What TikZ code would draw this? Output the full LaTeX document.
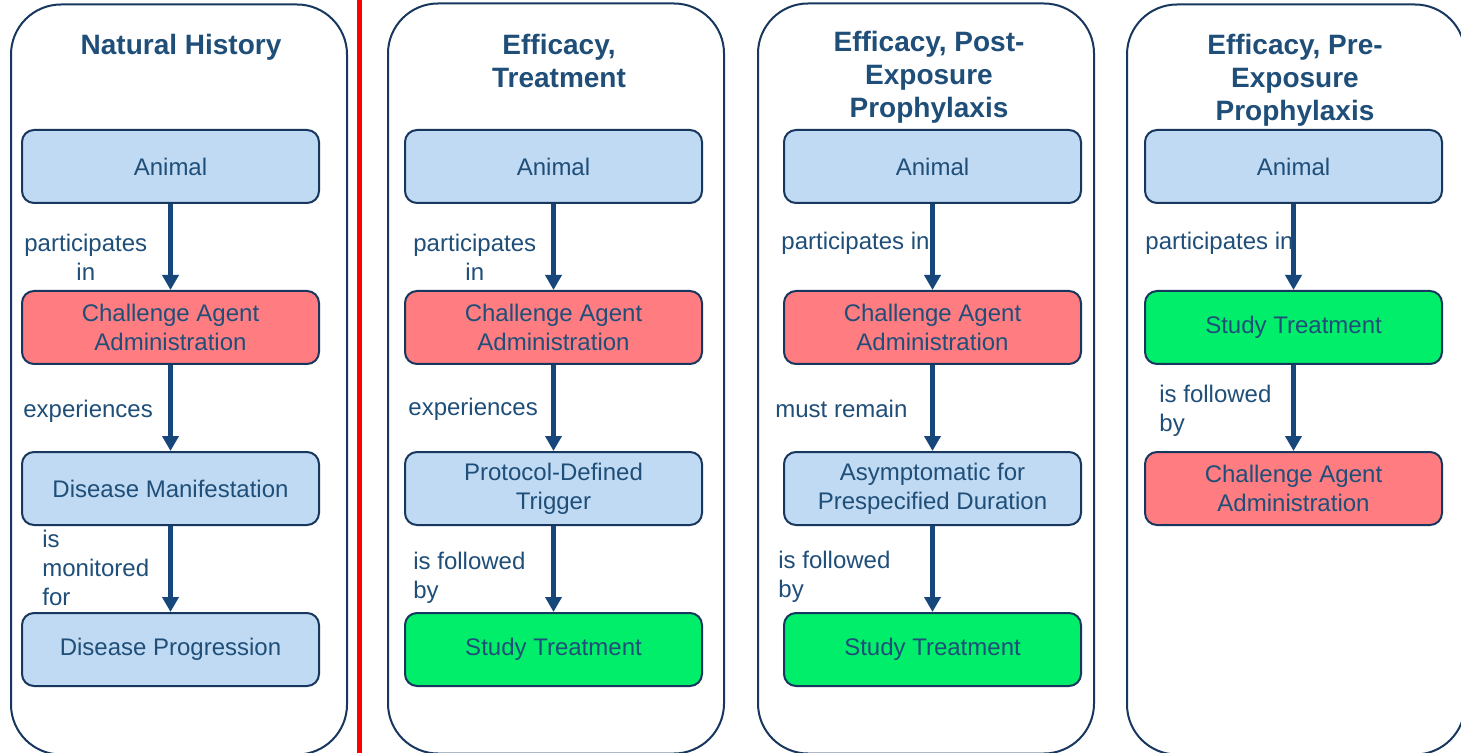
\documentclass[tikz,border=0pt]{standalone}
\usepackage{fontspec}
\setmainfont{Liberation Sans}
\usetikzlibrary{arrows.meta,positioning}
\definecolor{navy}{HTML}{17375E}
\definecolor{textblue}{HTML}{1F4E79}
\definecolor{arrowblue}{HTML}{17467A}
\definecolor{lightblue}{HTML}{BFDAF2}
\definecolor{salmon}{HTML}{FF7C80}
\definecolor{brightgreen}{HTML}{00EE6A}
\tikzset{
  panel/.style={draw=navy, line width=1pt, rounded corners=25pt, fill=white, minimum height=375pt},
  title/.style={text=textblue, font=\fontsize{14}{16.5}\selectfont\bfseries, align=center},
  base/.style={draw=navy, line width=1pt, rounded corners=6pt, minimum width=148.5pt, minimum height=36.5pt, align=center, text=textblue, font=\fontsize{12}{14.5}\selectfont, inner sep=2pt},
  animalbox/.style={base, fill=lightblue},
  challengebox/.style={base, fill=salmon},
  treatbox/.style={base, fill=brightgreen},
  edgetext/.style={text=textblue, font=\fontsize{12}{14.5}\selectfont, inner sep=0pt, anchor=west},
  line/.style={-{Triangle[length=7.5pt,width=8pt]}, line width=2.4pt, draw=arrowblue}
}

\begin{document}
\begin{tikzpicture}[x=0.5pt, y=-0.5pt, node distance=43pt]
  \useasboundingbox (0,0) rectangle (1461,753);

  % panels
  \node[panel, minimum width=168pt] (panel1) at (179,379.5) {};
  \node[panel, minimum width=168pt] (panel2) at (556,378.5) {};
  \node[panel, minimum width=168pt] (panel3) at (926,378.5) {};
  \node[panel, minimum width=169pt] (panel4) at (1296,379.5) {};

  % divider
  \coordinate (divtop) at (359,0);
  \coordinate (divbot) at (359,753);
  \draw[red, line width=2.5pt] (divtop) -- (divbot);

  \node[title] (title1) at (181,47) {Natural History};
  \node[title] (title2) at (559,61) {Efficacy,\\Treatment};
  \node[title] (title3) at (929,77.5) {Efficacy, Post-\\Exposure\\Prophylaxis};
  \node[title] (title4) at (1295,80) {Efficacy, Pre-\\Exposure\\Prophylaxis};

  % natural history
  \node[animalbox] (animal1) at (170.5,166.5) {Animal};
  \node[challengebox, below=of animal1] (challenge1) {Challenge Agent\\Administration};
  \node[animalbox, below=of challenge1] (manif1) {Disease Manifestation};
  \node[animalbox, below=of manif1] (progr1) {Disease Progression};
  \draw[line] (animal1) -- (challenge1);
  \draw[line] (challenge1) -- (manif1);
  \draw[line] (manif1) -- (progr1);
  \node[edgetext, align=center] (part1) at (24,257) {participates\\in};
  \node[edgetext] (exp1) at (23,411) {experiences};
  \node[edgetext, align=left] (mon1) at (42,568) {is\\monitored\\for};

  % treatment
  \node[animalbox] (animal2) at (553.5,166.5) {Animal};
  \node[challengebox, below=of animal2] (challenge2) {Challenge Agent\\Administration};
  \node[animalbox, below=of challenge2] (trigger2) {Protocol-Defined\\Trigger};
  \node[treatbox, below=of trigger2] (treat2) {Study Treatment};
  \draw[line] (animal2) -- (challenge2);
  \draw[line] (challenge2) -- (trigger2);
  \draw[line] (trigger2) -- (treat2);
  \node[edgetext, align=center] (part2) at (413,257) {participates\\in};
  \node[edgetext] (exp2) at (408,409) {experiences};
  \node[edgetext, align=left] (fol2) at (413,578) {is followed\\by};

  % post-exposure
  \node[animalbox] (animal3) at (932.5,166.5) {Animal};
  \node[challengebox, below=of animal3] (challenge3) {Challenge Agent\\Administration};
  \node[animalbox, below=of challenge3] (asym3) {Asymptomatic for\\Prespecified Duration};
  \node[treatbox, below=of asym3] (treat3) {Study Treatment};
  \draw[line] (animal3) -- (challenge3);
  \draw[line] (challenge3) -- (asym3);
  \draw[line] (asym3) -- (treat3);
  \node[edgetext] (part3) at (781,243) {participates in};
  \node[edgetext] (rem3) at (775,409) {must remain};
  \node[edgetext, align=left] (fol3) at (778,577) {is followed\\by};

  % pre-exposure
  \node[animalbox] (animal4) at (1293.5,166.5) {Animal};
  \node[treatbox, below=of animal4] (treat4) {Study Treatment};
  \node[challengebox, below=of treat4] (challenge4) {Challenge Agent\\Administration};
  \draw[line] (animal4) -- (treat4);
  \draw[line] (treat4) -- (challenge4);
  \node[edgetext] (part4) at (1145,243) {participates in};
  \node[edgetext, align=left] (fol4) at (1159,411) {is followed\\by};
\end{tikzpicture}
\end{document}
